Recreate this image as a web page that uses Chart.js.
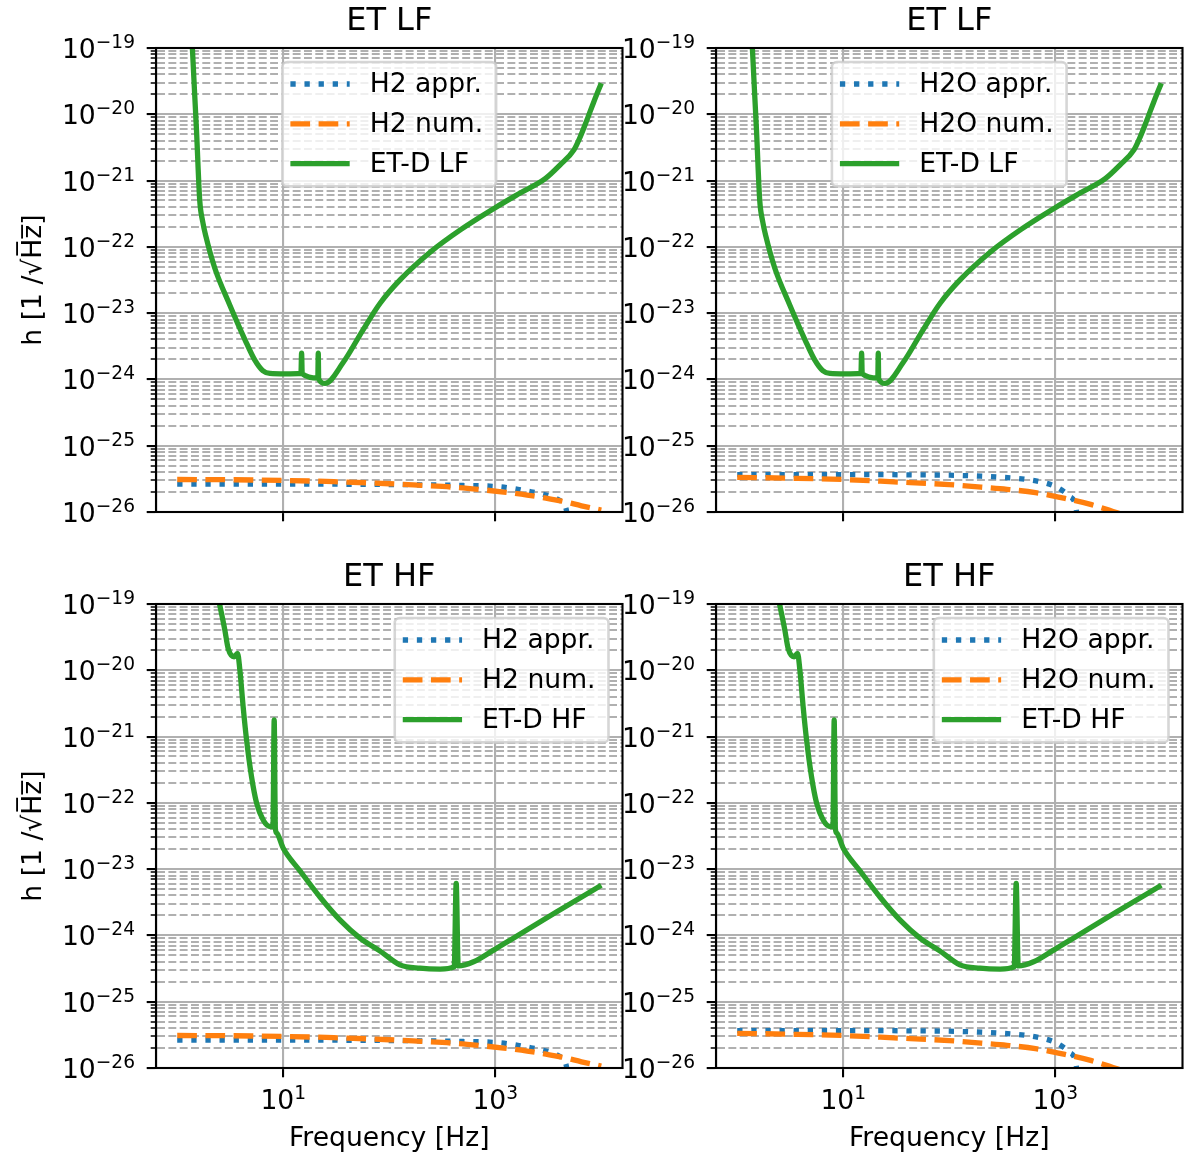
<!DOCTYPE html>
<html>
<head>
<meta charset="utf-8">
<script src="https://cdn.jsdelivr.net/npm/chart.js@4.4.1/dist/chart.umd.min.js"></script>
<style>
  html, body { margin: 0; padding: 0; background: #fff; }
  #fig { position: relative; width: 1184px; height: 1159px; overflow: hidden; }
  #fig canvas { position: absolute; }
</style>
</head>
<body>
<div id="fig">
  <canvas id="tl" width="650" height="560" style="left:0;top:0"></canvas>
  <canvas id="tr" width="584" height="560" style="left:600px;top:0"></canvas>
  <canvas id="bl" width="650" height="603" style="left:0;top:556px"></canvas>
  <canvas id="br" width="584" height="603" style="left:600px;top:556px"></canvas>
</div>
<script>
// ---- data ----
const xTickValues = [10, 1000];
const xTickExps = ['1', '3'];               // labels 10^1, 10^3
const yTickValues = [1e-26, 1e-25, 1e-24, 1e-23, 1e-22, 1e-21, 1e-20, 1e-19];
const yTickExps = ['\u221226', '\u221225', '\u221224', '\u221223', '\u221222', '\u221221', '\u221220', '\u221219'];

// ET-D low frequency sensitivity
const etLfFreq = [1.0, 1.39, 1.52, 1.63, 1.74, 1.86, 2.26, 3.13, 4.35, 5.4, 6.43, 7.5, 10.4, 14.7, 14.9, 15.1,
  21.2, 21.4, 21.6, 24.8, 36.6, 56.6, 82, 127, 243, 468, 1000, 1720, 2960, 4110, 5520, 6340, 7340, 8510, 10000];
const etLfH = [2e-14, 1.0e-19, 5.8e-21, 5.1e-22, 2.4e-22, 1.46e-22, 4.8e-23, 1.33e-23, 4.0e-24, 1.95e-24, 1.35e-24,
  1.23e-24, 1.21e-24, 1.23e-24, 2.5e-24, 1.22e-24, 1.05e-24, 2.5e-24, 1.02e-24, 8.7e-25, 1.78e-24, 5.6e-24,
  1.41e-23, 3.2e-23, 8.3e-23, 1.8e-22, 3.9e-22, 6.5e-22, 1.07e-21, 1.74e-21, 2.9e-21, 4.6e-21, 8.3e-21, 1.55e-20, 2.95e-20];

// ET-D high frequency sensitivity
const etHfFreq = [1.0, 2.2, 2.52, 2.81, 3.02, 3.44, 3.71, 3.9, 4.19, 4.51, 5.02, 5.61, 6.47, 7.48, 8.0, 8.22, 8.43,
  8.67, 10, 14.4, 22.2, 34.4, 53, 82, 126, 195, 302, 410, 428, 447, 624, 964, 1390, 3770, 10000];
const etHfH = [1e-15, 3e-19, 9.7e-20, 4.1e-20, 2.15e-20, 1.6e-20, 1.8e-20, 1.01e-20, 2.8e-21, 8.9e-22, 2.5e-22,
  9.9e-23, 5.5e-23, 4.4e-23, 4.4e-23, 1.78e-21, 4.1e-23, 3.5e-23, 2.07e-23, 9.4e-24, 3.8e-24, 1.7e-24, 9.1e-25,
  5.8e-25, 3.6e-25, 3.2e-25, 3.1e-25, 3.35e-25, 6.1e-24, 3.47e-25, 4.0e-25, 6.0e-25, 8.55e-25, 2.26e-24, 5.7e-24];

// H2
const h2ApprFreq = [1, 10, 100, 500, 1000, 1500, 2000, 2700, 3500, 4000, 4500, 4800, 5000];
const h2ApprH = [2.63e-26, 2.63e-26, 2.6e-26, 2.51e-26, 2.43e-26, 2.26e-26, 2.07e-26, 1.88e-26, 1.68e-26,
  1.51e-26, 1.29e-26, 7.9e-27, 2.5e-27];
const h2NumFreq = [1, 3, 10, 30, 100, 200, 400, 700, 1200, 2000, 3000, 4500, 6500, 10000];
const h2NumH = [3.09e-26, 3.07e-26, 2.99e-26, 2.87e-26, 2.67e-26, 2.52e-26, 2.37e-26, 2.19e-26, 2.0e-26,
  1.8e-26, 1.62e-26, 1.43e-26, 1.24e-26, 1.07e-26];

// H2O
const h2oApprFreq = [1, 10, 50, 100, 200, 300, 450, 600, 800, 1000, 1200, 1350, 1550, 1700];
const h2oApprH = [3.67e-26, 3.67e-26, 3.63e-26, 3.59e-26, 3.47e-26, 3.35e-26, 3.2e-26, 3.02e-26, 2.75e-26,
  2.43e-26, 2.04e-26, 1.74e-26, 1.26e-26, 4e-27];
const h2oNumFreq = [1, 3, 10, 30, 100, 200, 350, 650, 1200, 2200, 3500, 6000, 10000];
const h2oNumH = [3.34e-26, 3.24e-26, 3.09e-26, 2.85e-26, 2.59e-26, 2.37e-26, 2.2e-26, 1.96e-26, 1.62e-26,
  1.29e-26, 1.02e-26, 7.6e-27, 5.4e-27];

// ---- drawing ----
const FONT = 'DejaVu Sans';
const tickFont = { family: FONT, size: 26.6 };
const xMin = Math.pow(10, -0.2), xMax = Math.pow(10, 4.2);

// full black box around the axes (matplotlib spines)
const frame = {
  id: 'frame',
  afterDatasetsDraw(chart) {
    const { ctx, chartArea: a } = chart;
    ctx.save();
    ctx.strokeStyle = '#000';
    ctx.lineWidth = 2.1;
    ctx.strokeRect(a.left, a.top, a.right - a.left, a.bottom - a.top);
    ctx.restore();
  }
};

// "10" with a raised, smaller exponent, like matplotlib's mathtext tick labels
function drawPow(ctx, exp, x, baseline, align) {
  ctx.font = '26.6px "DejaVu Sans"';
  const wb = ctx.measureText('10').width;
  ctx.font = '18.6px "DejaVu Sans"';
  const we = ctx.measureText(exp).width;
  const x0 = align === 'right' ? x - wb - we : x - (wb + we) / 2;
  ctx.textAlign = 'left';
  ctx.textBaseline = 'alphabetic';
  ctx.fillStyle = '#000';
  ctx.font = '26.6px "DejaVu Sans"';
  ctx.fillText('10', x0, baseline);
  ctx.font = '18.6px "DejaVu Sans"';
  ctx.fillText(exp, x0 + wb, baseline - 10);
}

const sciTicks = {
  id: 'sciTicks',
  afterDraw(chart, args, opts) {
    const { ctx, chartArea: a, scales } = chart;
    ctx.save();
    yTickValues.forEach((v, i) => {
      const py = scales.y.getPixelForValue(v);
      drawPow(ctx, yTickExps[i], a.left - 21, py + 10, 'right');
    });
    if (opts.showX) {
      xTickValues.forEach((v, i) => {
        const px = scales.x.getPixelForValue(v);
        drawPow(ctx, xTickExps[i], px, a.bottom + 41, 'center');
      });
    }
    ctx.restore();
  }
};

// legend box drawn inside the plot like matplotlib does
const boxLegend = {
  id: 'boxLegend',
  afterDraw(chart, args, opts) {
    const { ctx, chartArea: a } = chart;
    const sets = chart.data.datasets;
    ctx.save();
    ctx.font = '26.6px "DejaVu Sans"';
    const textW = Math.max(...sets.map(d => ctx.measureText(d.label).width));
    const w = 87.3 + textW + 13, h = 124.4, pad = 14;
    const x = opts.align === 'right' ? a.right - pad - w : (a.left + a.right) / 2 - w / 2;
    const y = a.top + pad, r = 5;
    ctx.beginPath();
    ctx.moveTo(x + r, y);
    ctx.arcTo(x + w, y, x + w, y + h, r);
    ctx.arcTo(x + w, y + h, x, y + h, r);
    ctx.arcTo(x, y + h, x, y, r);
    ctx.arcTo(x, y, x + w, y, r);
    ctx.closePath();
    ctx.fillStyle = 'rgba(255,255,255,0.8)';
    ctx.fill();
    ctx.strokeStyle = 'rgba(204,204,204,0.8)';
    ctx.lineWidth = 2.6;
    ctx.stroke();
    sets.forEach((d, i) => {
      const cy = y + 22 + i * 39.85;
      ctx.beginPath();
      ctx.setLineDash(d.borderDash || []);
      ctx.strokeStyle = d.borderColor;
      ctx.lineWidth = d.borderWidth;
      ctx.moveTo(x + 8, cy);
      ctx.lineTo(x + 67.3, cy);
      ctx.stroke();
      ctx.setLineDash([]);
      ctx.fillStyle = '#000';
      ctx.textBaseline = 'middle';
      ctx.fillText(d.label, x + 87.3, cy + 1);
    });
    ctx.restore();
  }
};

function series(freq, vals) {
  return freq.map((f, i) => ({ x: f, y: vals[i] }));
}

function lineSet(label, pts, color, dash, order) {
  return {
    label, data: pts, borderColor: color, borderWidth: 5.3, borderDash: dash,
    borderJoinStyle: 'round', pointRadius: 0, fill: false,
    cubicInterpolationMode: 'monotone', clip: 0, order
  };
}

function panel(id, o) {
  new Chart(document.getElementById(id), {
    type: 'line',
    data: {
      datasets: [
        lineSet(o.mol + ' appr.', series(o.apprF, o.apprH), '#1f77b4', [5.3, 8.8], 3),
        lineSet(o.mol + ' num.', series(o.numF, o.numH), '#ff7f0e', [19.7, 8.5], 2),
        lineSet(o.det, series(o.detF, o.detH), '#2ca02c', [], 1)
      ]
    },
    options: {
      responsive: false,
      animation: false,
      events: [],
      layout: { padding: { left: 0, right: o.padRight, top: 0, bottom: 0 } },
      plugins: {
        legend: { display: false },
        tooltip: { enabled: false },
        title: {
          display: true, text: o.title, fullSize: false, color: '#000',
          font: { family: FONT, size: 32, weight: 'normal' },
          padding: { top: 2, bottom: 7.6 }
        },
        boxLegend: { align: o.legendAlign },
        sciTicks: { showX: o.showX }
      },
      scales: {
        x: {
          type: 'logarithmic', min: xMin, max: xMax, bounds: 'data',
          afterBuildTicks: s => { s.ticks = xTickValues.map(v => ({ value: v, major: true })); },
          afterFit: s => { s.height = o.xHeight; },
          ticks: { display: false, autoSkip: false, maxRotation: 0 },
          grid: { color: '#b0b0b0', lineWidth: 2.1, tickLength: 9.3, tickWidth: 2.1, tickColor: '#000' },
          border: { color: '#000', width: 2.1 },
          title: {
            display: o.showX, text: 'Frequency [Hz]', color: '#000', font: tickFont,
            padding: { top: 0, bottom: 4.3 }
          }
        },
        y: {
          type: 'logarithmic', min: 1e-26, max: 1e-19, bounds: 'data',
          afterBuildTicks: s => {
            const t = [];
            for (let e = -26; e < -19; e++) {
              for (let m = 1; m < 10; m++) t.push({ value: Number(m + 'e' + e), major: m === 1 });
            }
            t.push({ value: 1e-19, major: true });
            s.ticks = t;
          },
          afterFit: s => { s.width = o.yWidth; },
          ticks: { display: false, autoSkip: false },
          grid: {
            color: '#b0b0b0', lineWidth: 2.1, tickLength: 9.3, tickColor: '#000',
            tickWidth: c => (c.tick && c.tick.major ? 2.1 : 1.6),
            tickBorderDash: c => (c.tick && c.tick.major ? [] : [0, 4, 5.3, 60])
          },
          border: { color: '#000', width: 2.1, dash: c => (c.tick && !c.tick.major ? [7.9, 3.4] : []) },
          title: {
            display: o.showY, text: 'h [1 /\u221AH\u0305z\u0305]', color: '#000', font: tickFont,
            padding: { top: 17.9, bottom: 0 }
          }
        }
      }
    },
    plugins: [frame, sciTicks, boxLegend]
  });
}

const h2 = { mol: 'H2', apprF: h2ApprFreq, apprH: h2ApprH, numF: h2NumFreq, numH: h2NumH };
const h2o = { mol: 'H2O', apprF: h2oApprFreq, apprH: h2oApprH, numF: h2oNumFreq, numH: h2oNumH };
const lf = { title: 'ET LF', det: 'ET-D LF', detF: etLfFreq, detH: etLfH, legendAlign: 'center', showX: false, xHeight: 48 };
const hf = { title: 'ET HF', det: 'ET-D HF', detF: etHfFreq, detH: etHfH, legendAlign: 'right', showX: true, xHeight: 91 };
const left = { showY: true, yWidth: 156, padRight: 27.5 };
const right = { showY: false, yWidth: 116, padRight: 1.5 };

panel('tl', Object.assign({}, h2, lf, left));
panel('tr', Object.assign({}, h2o, lf, right));
panel('bl', Object.assign({}, h2, hf, left));
panel('br', Object.assign({}, h2o, hf, right));
</script>
</body>
</html>
